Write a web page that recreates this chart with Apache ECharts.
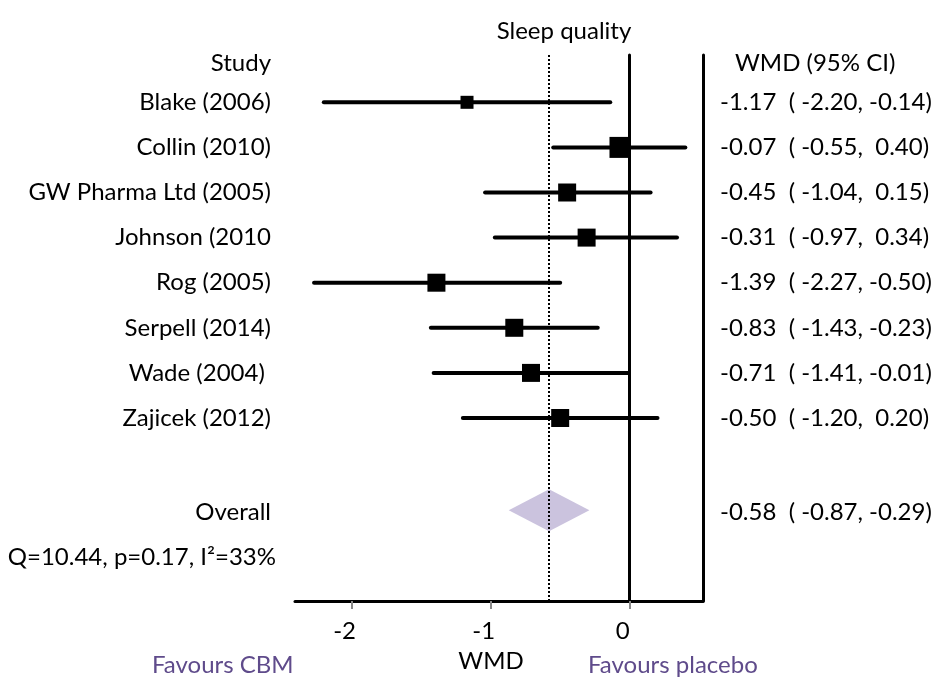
<!DOCTYPE html>
<html><head><meta charset="utf-8">
<script src="https://cdn.jsdelivr.net/npm/echarts@6/dist/echarts.min.js"></script>
<style>html,body{margin:0;padding:0;background:#fff}#c{width:936px;height:678px}</style>
</head><body><div id="c"></div>
<script>
// ---- data ----
const studies = ['Blake (2006)', 'Collin (2010)', 'GW Pharma Ltd (2005)', 'Johnson (2010', 'Rog (2005)', 'Serpell (2014)', 'Wade (2004) ', 'Zajicek (2012)'];
const wmd    = [-1.17, -0.07, -0.45, -0.31, -1.39, -0.83, -0.71, -0.50];
const ciLow  = [-2.20, -0.55, -1.04, -0.97, -2.27, -1.43, -1.41, -1.20];
const ciHigh = [-0.14,  0.40,  0.15,  0.34, -0.50, -0.23, -0.01,  0.20];
const studyWeight = [13, 21, 18, 18, 18, 18, 18, 18]; // relative study weights (box size)
const overallEst = -0.58, overallLow = -0.87, overallHigh = -0.29;
const hetQ = 10.44, hetP = 0.17, hetI2 = 33;
const xTicks = [-2, -1, 0];

// ---- helpers ----
const FONT = 'Lato';
const fmt = v => v < 0 ? v.toFixed(2) : ' ' + v.toFixed(2);
const ciText = (e, l, h) => `${fmt(e)}  ( ${fmt(l)}, ${fmt(h)})`;
const hetText = `Q=${hetQ.toFixed(2)}, p=${hetP.toFixed(2)}, I²=${hetI2}%`;

const ROW_HEADER = 0, ROW_OVERALL = studies.length + 2, ROW_HET = studies.length + 3;
const leftLabels = {}, rightLabels = {};
leftLabels[ROW_HEADER] = '{h|Study}';
rightLabels[ROW_HEADER] = '{hr|WMD (95% CI)}';
studies.forEach((s, i) => { leftLabels[i + 1] = s; rightLabels[i + 1] = ciText(wmd[i], ciLow[i], ciHigh[i]); });
leftLabels[ROW_OVERALL] = '{o|Overall}';
rightLabels[ROW_OVERALL] = '{o|' + ciText(overallEst, overallLow, overallHigh) + '}';
leftLabels[ROW_HET] = '{q|' + hetText + '}';
const leftRows = Object.keys(leftLabels).map(Number);
const rightRows = Object.keys(rightLabels).map(Number);

const studyData = studies.map((s, i) => [i + 1, wmd[i], ciLow[i], ciHigh[i], studyWeight[i]]);

const yMin = -0.049, yMax = 12.058;
const txt = {fontFamily: FONT, fontSize: 24, color: '#000'};
const rich = {
  h: {fontFamily: FONT, fontSize: 24, color: '#000', padding: [12, 0, 0, 0]},
  hr: {fontFamily: FONT, fontSize: 24, color: '#000', padding: [12, 0, 0, 15]},
  o: {fontFamily: FONT, fontSize: 24, color: '#000', padding: [8, 0, 0, 0]},
  q: {fontFamily: FONT, fontSize: 24, color: '#000', padding: [8, -5, 0, 0]}
};

const chart = echarts.init(document.getElementById('c'), null, {renderer: 'canvas'});
chart.setOption({
  animation: false,
  backgroundColor: '#fff',
  title: {text: 'Sleep quality', left: 559, top: 14, textAlign: 'center',
    textStyle: {fontFamily: FONT, fontSize: 24, fontWeight: 'normal', color: '#000'}},
  grid: {left: 295, right: 233, top: 55, bottom: 77, containLabel: false},
  xAxis: {
    type: 'value', min: -2.407, max: 0.527,
    axisLine: {show: true, onZero: false, lineStyle: {color: '#000', width: 3}},
    axisTick: {show: true, customValues: xTicks, length: 8, lineStyle: {color: '#888', width: 2}},
    axisLabel: {show: true, customValues: xTicks, margin: 18, ...txt, padding: [0, 14, 0, 0]},
    splitLine: {show: false},
    name: 'WMD', nameLocation: 'middle', nameGap: 48,
    nameTextStyle: {...txt, padding: [0, 16, 0, 0]}
  },
  yAxis: [{
    type: 'value', inverse: true, min: yMin, max: yMax, position: 'left',
    axisLine: {show: true, lineStyle: {color: '#000', width: 3}},
    axisTick: {show: false}, splitLine: {show: false},
    axisLabel: {show: true, customValues: leftRows, margin: 24, ...txt, rich,
      formatter: v => leftLabels[Math.round(v)] || ''}
  }, {
    type: 'value', inverse: true, min: yMin, max: yMax, position: 'right',
    axisLine: {show: true, lineStyle: {color: '#000', width: 3}},
    axisTick: {show: false}, splitLine: {show: false},
    axisLabel: {show: true, customValues: rightRows, margin: 17, align: 'left', ...txt, rich,
      formatter: v => rightLabels[Math.round(v)] || ''}
  }],
  graphic: [
    {type: 'text', left: 152, top: 653, style: {text: 'Favours CBM', fontFamily: FONT, fontSize: 24, fill: '#5F4B8B'}},
    {type: 'text', left: 588, top: 653, style: {text: 'Favours placebo', fontFamily: FONT, fontSize: 24, fill: '#5F4B8B'}}
  ],
  series: [
    {
      type: 'line', data: [], z: 1, silent: true,
      markLine: {
        silent: true, symbol: ['none', 'none'], label: {show: false},
        data: [
          {xAxis: 0, lineStyle: {color: '#000', width: 2, type: 'solid'}},
          {xAxis: overallEst, lineStyle: {color: '#000', width: 2, type: [2, 2]}}
        ]
      }
    },
    {
      type: 'custom', z: 3, data: studyData,
      encode: {x: [1, 2, 3], y: 0},
      renderItem(params, api) {
        const row = api.value(0);
        const a = api.coord([api.value(2), row]);
        const b = api.coord([api.value(3), row]);
        const c = api.coord([api.value(1), row]);
        const s = api.value(4);
        return {type: 'group', children: [
          {type: 'line', shape: {x1: a[0], y1: a[1], x2: b[0], y2: b[1]}, style: {stroke: '#000', lineWidth: 4, lineCap: 'round'}},
          {type: 'rect', shape: {x: c[0] - s / 2, y: c[1] - s / 2, width: s, height: s}, style: {fill: '#000'}}
        ]};
      }
    },
    {
      type: 'custom', z: 4, data: [[ROW_OVERALL, overallEst, overallLow, overallHigh]],
      encode: {x: [1, 2, 3], y: 0},
      renderItem(params, api) {
        const row = api.value(0);
        const l = api.coord([api.value(2), row]);
        const r = api.coord([api.value(3), row]);
        const c = api.coord([api.value(1), row]);
        const hh = 21, dy = 2;
        return {type: 'polygon', shape: {points: [[l[0], l[1] + dy], [c[0], c[1] + dy - hh], [r[0], r[1] + dy], [c[0], c[1] + dy + hh]]},
          style: {fill: '#CBC3DE'}};
      }
    }
  ]
});
</script></body></html>
